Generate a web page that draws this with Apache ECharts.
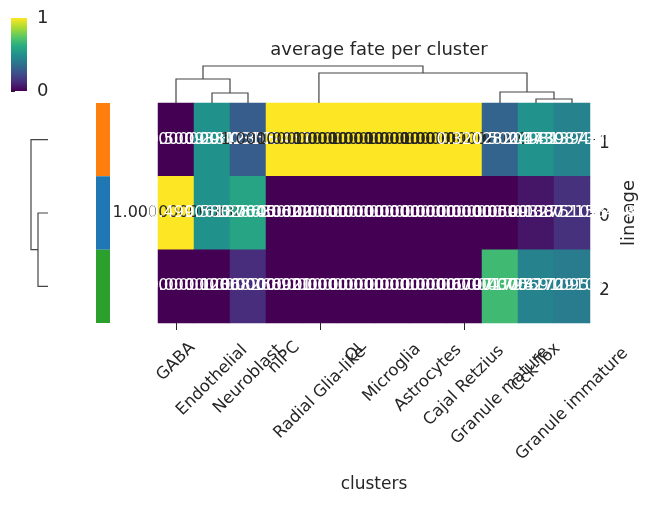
<!DOCTYPE html>
<html>
<head>
<meta charset="utf-8">
<script src="https://cdn.jsdelivr.net/npm/echarts@6/dist/echarts.min.js"></script>
<style>html,body{margin:0;padding:0;background:#fff}#c{width:648px;height:505px}</style>
</head>
<body>
<div id="c"></div>
<script>
// ---- data ----
const clusters = ['GABA','Endothelial','Neuroblast','nIPC','Radial Glia-like','OL','Microglia','Astrocytes','Cajal Retzius','Granule mature','Cck-Tox','Granule immature'];
const lineages = ['1','0','2'];
const fateLineage1 = [0.0, 0.50093812355, 0.29303102457, 1.0, 1.0, 1.0, 1.0, 1.0, 1.0, 0.32028201730, 0.50249813944, 0.44398738453];
const fateLineage0 = [1.0, 0.49906187645, 0.58328630622, 0.0, 0.0, 0.0, 0.0, 0.0, 0.0, 0.0, 0.05993275102, 0.13872158413];
const fateLineage2 = [0.0, 0.0, 0.12368266921, 0.0, 0.0, 0.0, 0.0, 0.0, 0.0, 0.67971798270, 0.43756910954, 0.41729103134];
const lineageColors = ['#ff7f0e', '#1f77b4', '#2ca02c'];
// column dendrogram links: [leftX, rightX, leftChildHeight, rightChildHeight, height]
const colLinks = [
  [1.5, 2.5, 0, 0, 0.270],
  [0.5, 2.0, 0, 0.270, 0.649],
  [10.5, 11.5, 0, 0, 0.108],
  [9.5, 11.0, 0, 0.108, 0.297],
  [4.47, 10.25, 0, 0.297, 0.811],
  [1.25, 7.36, 0.649, 0.811, 1.0]
];
// row dendrogram links: [topY, bottomY, topChildHeight, bottomChildHeight, height]
const rowLinks = [
  [1.5, 2.5, 0, 0, 0.588],
  [0.5, 2.0, 0, 0.588, 1.0]
];
const viridis = ['#440154','#472d7b','#3b528b','#2c728e','#21918c','#28ae80','#5ec962','#addc30','#fde725'];
const colorbarTicks = [0, 1];

// ---- build ----
const FONT = 'DejaVu Sans';
const TXT = '#262626';
const rowsData = [fateLineage1, fateLineage0, fateLineage2];
const heatData = [];
rowsData.forEach((row, r) => {
  row.forEach((v, c) => {
    heatData.push({
      value: [c, r, v],
      label: { color: v > 0.75 ? TXT : '#ffffff' }
    });
  });
});

const chart = echarts.init(document.getElementById('c'), null, { renderer: 'canvas' });

function linkRenderer(vertical) {
  return function (params, api) {
    const a = api.value(0), b = api.value(1), ha = api.value(2), hb = api.value(3), h = api.value(4);
    let pts;
    if (vertical) {
      pts = [api.coord([a, ha]), api.coord([a, h]), api.coord([b, h]), api.coord([b, hb])];
    } else {
      pts = [api.coord([ha, a]), api.coord([h, a]), api.coord([h, b]), api.coord([hb, b])];
    }
    return { type: 'polyline', shape: { points: pts }, style: { stroke: '#444444', lineWidth: 1.2, fill: null } };
  };
}

const option = {
  animation: false,
  backgroundColor: '#ffffff',
  textStyle: { fontFamily: FONT },
  title: {
    text: 'average fate per cluster',
    left: 374, top: 36, textAlign: 'center',
    textStyle: { fontFamily: FONT, fontSize: 18, fontWeight: 'normal', color: TXT }
  },
  visualMap: {
    show: false, type: 'continuous', min: 0, max: 1, seriesIndex: 0,
    inRange: { color: viridis }
  },
  grid: [
    { left: 158, top: 103, width: 432, height: 220 },           // heatmap
    { left: 158, top: 64.15, width: 432, height: 38.85 },      // col dendrogram
    { left: 30.15, top: 103, width: 17.85, height: 220 },       // row dendrogram
    { left: 96, top: 103, width: 14, height: 220 },             // row colors
    { left: 11, top: 18, width: 16, height: 73 }                // colorbar
  ],
  xAxis: [
    { gridIndex: 0, type: 'category', data: clusters,
      axisLine: { show: false }, splitLine: { show: false },
      axisTick: { show: true, alignWithLabel: true, length: 7, lineStyle: { color: TXT, width: 1 } },
      axisLabel: { show: false },
      name: 'clusters', nameLocation: 'middle', nameGap: 153,
      nameTextStyle: { fontFamily: FONT, fontSize: 17, color: TXT, verticalAlign: 'top' } },
    { gridIndex: 1, type: 'value', min: 0, max: 12, show: false },
    { gridIndex: 2, type: 'value', min: 0, max: 1.05, inverse: true, show: false },
    { gridIndex: 3, type: 'category', data: ['c'], show: false },
    { gridIndex: 4, type: 'value', min: 0, max: 1, show: false }
  ],
  yAxis: [
    { gridIndex: 0, type: 'category', data: lineages, inverse: true, position: 'right',
      axisLine: { show: false }, splitLine: { show: false },
      axisTick: { show: true, alignWithLabel: true, length: 5, lineStyle: { color: TXT, width: 1 } },
      axisLabel: { show: true, fontFamily: FONT, fontSize: 17, color: TXT, margin: 9, lineHeight: 24, verticalAlign: 'top', padding: [-8, 0, 0, 0] },
      name: 'lineage', nameLocation: 'middle', nameRotate: 90, nameGap: 23,
      nameTextStyle: { fontFamily: FONT, fontSize: 18, color: TXT } },
    { gridIndex: 1, type: 'value', min: 0, max: 1.05, show: false },
    { gridIndex: 2, type: 'value', min: 0, max: 3, inverse: true, show: false },
    { gridIndex: 3, type: 'category', data: lineages, inverse: true, show: false },
    { gridIndex: 4, type: 'value', min: 0, max: 1, interval: 1, position: 'right',
      axisLine: { show: false }, splitLine: { show: false },
      axisTick: { show: true, length: 4, lineStyle: { color: TXT, width: 1 } },
      axisLabel: { show: true, fontFamily: FONT, fontSize: 18, color: TXT, margin: 10,
        formatter: v => String(v) } }
  ],
  series: [
    { type: 'heatmap', xAxisIndex: 0, yAxisIndex: 0, data: heatData,
      itemStyle: { borderWidth: 0 },
      label: { show: true, fontFamily: FONT, fontSize: 16,
        formatter: p => p.value[2].toFixed(11) },
      emphasis: { disabled: true } },
    { type: 'custom', xAxisIndex: 1, yAxisIndex: 1, data: colLinks,
      renderItem: linkRenderer(true), silent: true },
    { type: 'custom', xAxisIndex: 2, yAxisIndex: 2, data: rowLinks,
      renderItem: linkRenderer(false), silent: true },
    { type: 'custom', xAxisIndex: 3, yAxisIndex: 3,
      data: lineages.map((l, i) => [0, i]),
      renderItem: function (params, api) {
        const c = api.coord([api.value(0), api.value(1)]);
        const s = api.size([1, 1]);
        return { type: 'rect', shape: { x: c[0] - s[0] / 2, y: c[1] - s[1] / 2, width: s[0], height: s[1] },
          style: { fill: lineageColors[params.dataIndex] } };
      }, silent: true },
    { type: 'custom', xAxisIndex: 4, yAxisIndex: 4, data: [[0, 1]],
      renderItem: function (params, api) {
        const p0 = api.coord([0, colorbarTicks[1]]);
        const p1 = api.coord([1, colorbarTicks[0]]);
        const stops = viridis.map((c, i) => ({ offset: i / (viridis.length - 1), color: c }));
        return { type: 'rect', shape: { x: p0[0], y: p0[1], width: p1[0] - p0[0], height: p1[1] - p0[1] },
          style: { fill: new echarts.graphic.LinearGradient(0, 1, 0, 0, stops) } };
      }, silent: true }
  ]
};
chart.setOption(option);

// rotated x tick labels, centred on each tick like matplotlib (rotation 45, ha=center)
const LABEL_SIZE = 16.5;
const ctx = document.createElement('canvas').getContext('2d');
ctx.font = LABEL_SIZE + 'px "' + FONT + '"';
const yA = chart.convertToPixel({ yAxisIndex: 0 }, lineages[lineages.length - 1]);
const yB = chart.convertToPixel({ yAxisIndex: 0 }, lineages[lineages.length - 2]);
const bottom = yA + (yA - yB) / 2;
const labelTop = bottom + 12;
const lineH = 19;
const graphics = clusters.map(name => {
  const x = chart.convertToPixel({ xAxisIndex: 0 }, name);
  const w = ctx.measureText(name).width;
  const half = (w + lineH) / Math.SQRT2 / 2;
  return {
    type: 'text', x: x, y: labelTop + half * 1.15, rotation: Math.PI / 4, silent: true,
    style: { text: name, fontFamily: FONT, fontSize: LABEL_SIZE, fill: TXT, align: 'center', verticalAlign: 'middle' }
  };
});
chart.setOption({ graphic: graphics });
</script>
</body>
</html>
